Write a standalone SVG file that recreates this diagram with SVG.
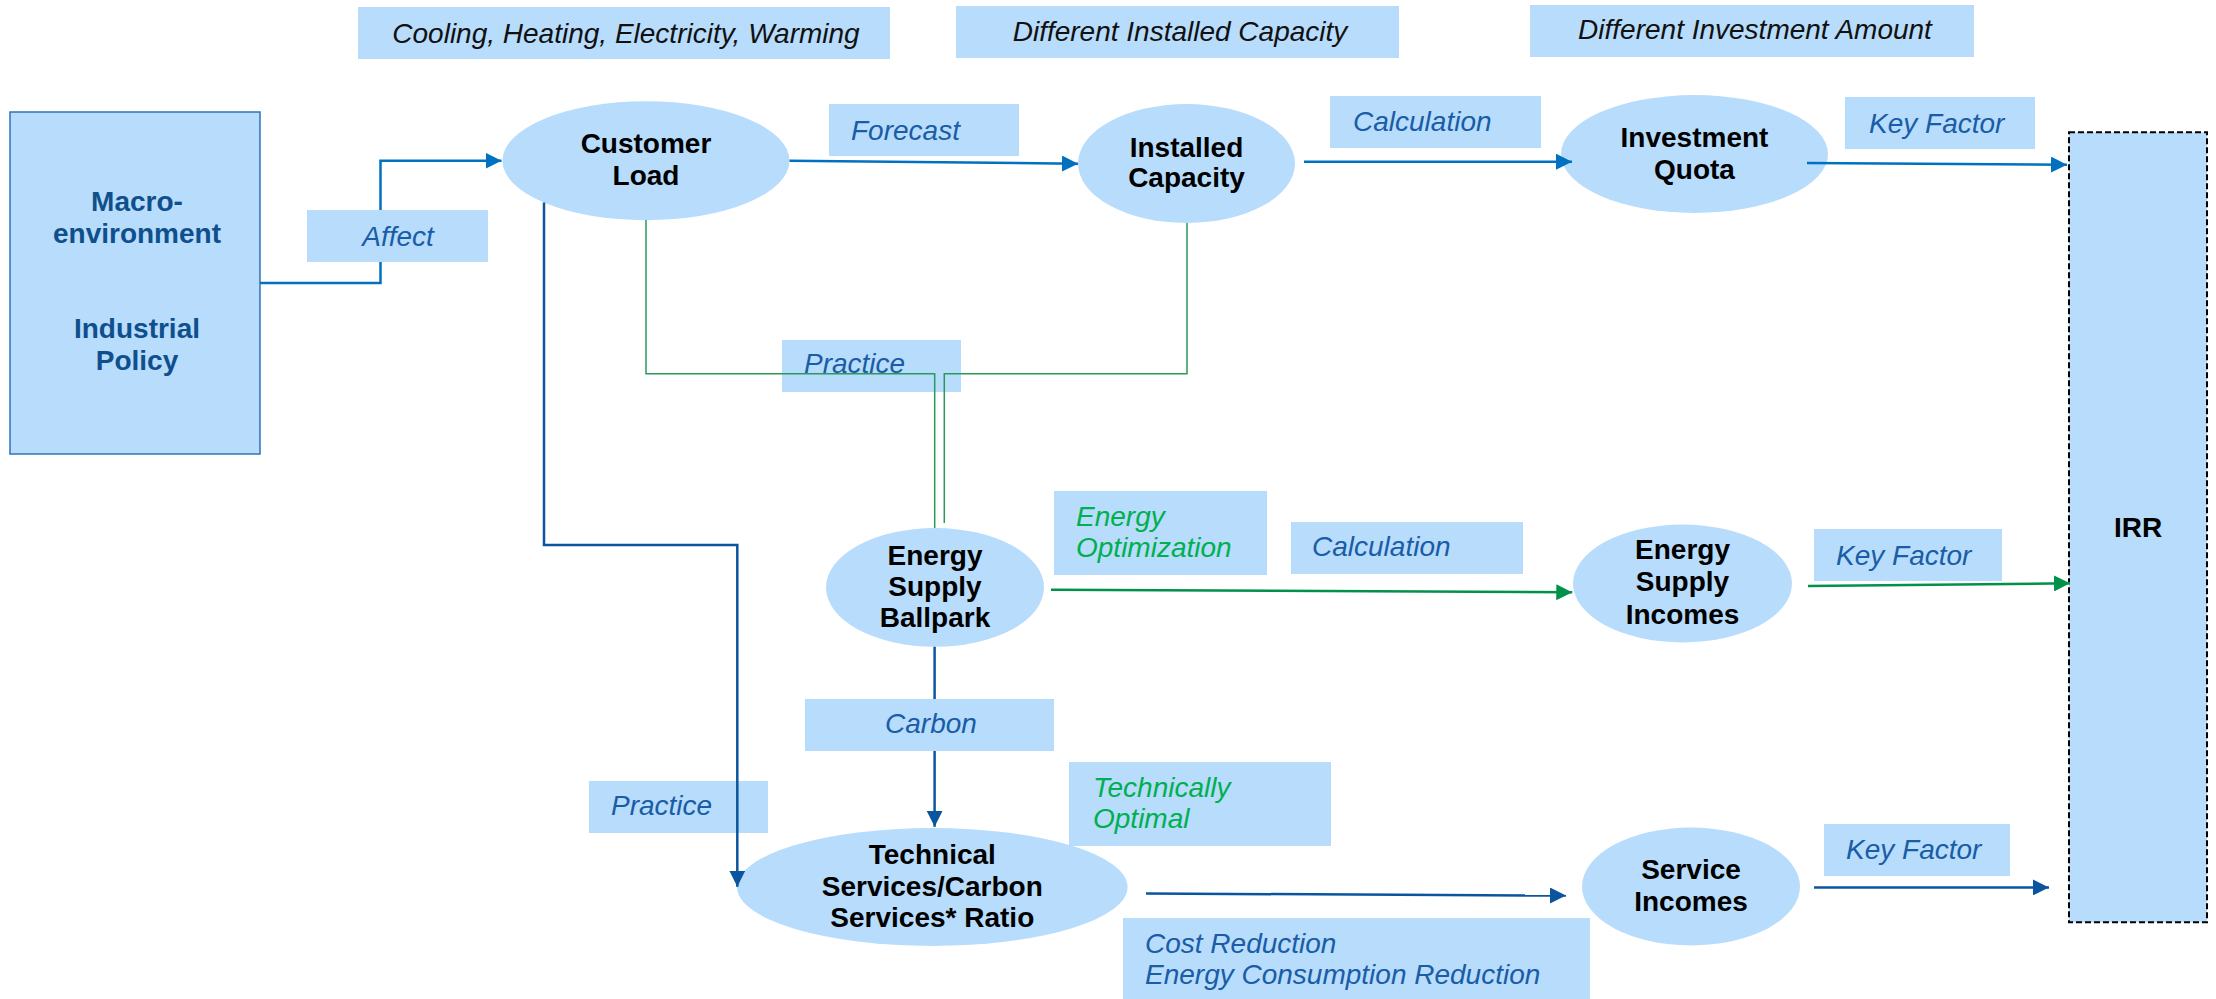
<svg xmlns="http://www.w3.org/2000/svg" width="2216" height="999" viewBox="0 0 2216 999">
<defs>
<style>
.box{fill:#b7dcfc;}
.node{fill:#b7dcfc;}
.nt{font-family:"Liberation Sans",Arial,sans-serif;font-weight:bold;font-size:28px;fill:#000;text-anchor:middle;}
.mt{font-family:"Liberation Sans",Arial,sans-serif;font-weight:bold;font-size:28px;fill:#0f4f8c;text-anchor:middle;}
.lb{font-family:"Liberation Sans",Arial,sans-serif;font-style:italic;font-size:28px;fill:#1a5da6;}
.lk{font-family:"Liberation Sans",Arial,sans-serif;font-style:italic;font-size:28px;fill:#111;}
.lg{font-family:"Liberation Sans",Arial,sans-serif;font-style:italic;font-size:28px;fill:#00b050;}
.c1{fill:none;stroke:#0070c0;stroke-width:2.5;}
.c2{fill:none;stroke:#0b559f;stroke-width:2.5;}
.c3{fill:none;stroke:#00914a;stroke-width:2.5;}
.c4{fill:none;stroke:#2a9a5a;stroke-width:1.5;}
</style>
<marker id="a1" markerUnits="userSpaceOnUse" markerWidth="16" markerHeight="16" refX="16" refY="8" orient="auto"><path d="M0,0 L16,8 L0,16 z" fill="#0070c0"/></marker>
<marker id="a2" markerUnits="userSpaceOnUse" markerWidth="16" markerHeight="16" refX="16" refY="8" orient="auto"><path d="M0,0 L16,8 L0,16 z" fill="#0b559f"/></marker>
<marker id="a3" markerUnits="userSpaceOnUse" markerWidth="16" markerHeight="16" refX="16" refY="8" orient="auto"><path d="M0,0 L16,8 L0,16 z" fill="#00914a"/></marker>
</defs>
<rect width="2216" height="999" fill="#fff"/>

<g id="labels-back">
<g id="lbl-cooling"><rect class="box" x="358" y="7" width="532" height="52"/><text class="lk" x="626" y="43" text-anchor="middle">Cooling, Heating, Electricity, Warming</text></g>
<g id="lbl-diffcap"><rect class="box" x="956" y="6" width="443" height="52"/><text class="lk" x="1180" y="41" text-anchor="middle">Different Installed Capacity</text></g>
<g id="lbl-diffinv"><rect class="box" x="1530" y="5" width="444" height="52"/><text class="lk" x="1755" y="39" text-anchor="middle">Different Investment Amount</text></g>
<g id="lbl-forecast"><rect class="box" x="829" y="104" width="190" height="52"/><text class="lb" x="851" y="140">Forecast</text></g>
<g id="lbl-calc1"><rect class="box" x="1330" y="96" width="211" height="52"/><text class="lb" x="1353" y="131">Calculation</text></g>
<g id="lbl-key1"><rect class="box" x="1845" y="97" width="190" height="52"/><text class="lb" x="1869" y="133">Key Factor</text></g>
<g id="lbl-practice1"><rect class="box" x="782" y="340" width="179" height="52"/><text class="lb" x="804" y="373">Practice</text></g>
<g id="lbl-energyopt"><rect class="box" x="1054" y="491" width="213" height="84"/><text class="lg" x="1076" y="526">Energy</text><text class="lg" x="1076" y="557">Optimization</text></g>
<g id="lbl-calc2"><rect class="box" x="1291" y="522" width="232" height="52"/><text class="lb" x="1312" y="556">Calculation</text></g>
<g id="lbl-key2"><rect class="box" x="1814" y="529" width="188" height="52"/><text class="lb" x="1836" y="565">Key Factor</text></g>
<g id="lbl-practice2"><rect class="box" x="589" y="781" width="179" height="52"/><text class="lb" x="611" y="815">Practice</text></g>
<g id="lbl-techopt"><rect class="box" x="1069" y="762" width="262" height="84"/><text class="lg" x="1093" y="797">Technically</text><text class="lg" x="1093" y="828">Optimal</text></g>
<g id="lbl-key3"><rect class="box" x="1824" y="824" width="186" height="52"/><text class="lb" x="1846" y="859">Key Factor</text></g>
<g id="lbl-cost"><rect class="box" x="1123" y="918" width="467" height="81"/><text class="lb" x="1145" y="953">Cost Reduction</text><text class="lb" x="1145" y="984">Energy Consumption Reduction</text></g>
</g>

<g id="n-macro"><rect x="10" y="112" width="250" height="342" fill="#b7dcfc" stroke="#2e75b6" stroke-width="1.5"/>
<text class="mt" x="137" y="211">Macro-</text><text class="mt" x="137" y="243">environment</text>
<text class="mt" x="137" y="338">Industrial</text><text class="mt" x="137" y="370">Policy</text></g>
<g id="n-customer"><ellipse class="node" cx="646" cy="160.7" rx="143.5" ry="59.5"/><text class="nt" x="646" y="153">Customer</text><text class="nt" x="646" y="185">Load</text></g>
<g id="n-installed"><ellipse class="node" cx="1186.5" cy="163.5" rx="108.5" ry="59.5"/><text class="nt" x="1186.5" y="157">Installed</text><text class="nt" x="1186.5" y="187">Capacity</text></g>
<g id="n-investment"><ellipse class="node" cx="1694.5" cy="154" rx="133.5" ry="59"/><text class="nt" x="1694.5" y="147">Investment</text><text class="nt" x="1694.5" y="179">Quota</text></g>
<g id="n-ballpark"><ellipse class="node" cx="935" cy="587.4" rx="109" ry="59.4"/><text class="nt" x="935" y="565">Energy</text><text class="nt" x="935" y="596">Supply</text><text class="nt" x="935" y="627">Ballpark</text></g>
<g id="n-esincomes"><ellipse class="node" cx="1682.5" cy="583.5" rx="109.5" ry="59"/><text class="nt" x="1682.5" y="559">Energy</text><text class="nt" x="1682.5" y="591">Supply</text><text class="nt" x="1682.5" y="624">Incomes</text></g>
<g id="n-technical"><ellipse class="node" cx="932.3" cy="887" rx="195.3" ry="59"/><text class="nt" x="932.3" y="864">Technical</text><text class="nt" x="932.3" y="896">Services/Carbon</text><text class="nt" x="932.3" y="927">Services* Ratio</text></g>
<g id="n-service"><ellipse class="node" cx="1691" cy="886.5" rx="109" ry="59"/><text class="nt" x="1691" y="879">Service</text><text class="nt" x="1691" y="911">Incomes</text></g>
<g id="n-irr"><rect x="2069" y="132.3" width="138" height="790" fill="#b7dcfc" stroke="#000" stroke-width="2" stroke-dasharray="6,3"/><text class="nt" x="2138" y="537">IRR</text></g>

<g id="connectors">
<path class="c1" d="M260,283 H380.5 V160.7 H501.5" marker-end="url(#a1)"/>
<path class="c1" d="M789.5,160.7 L1078,163.7" marker-end="url(#a1)"/>
<path class="c1" d="M1304,161.7 L1572,161.7" marker-end="url(#a1)"/>
<path class="c1" d="M1807,163 L2067,164.7" marker-end="url(#a1)"/>
<path class="c2" d="M544,202.5 V545 H737.3 V886.7" marker-end="url(#a2)"/>
<path class="c4" d="M646,220 V373.7 H934.7 V528"/>
<path class="c4" d="M1187,223 V373.7 H944.3 V523"/>
<path class="c3" d="M1051,589.7 L1572.3,592.3" marker-end="url(#a3)"/>
<path class="c3" d="M1808,586 L2070,583.3" marker-end="url(#a3)"/>
<path class="c2" d="M934.6,646.8 V826.8" marker-end="url(#a2)"/>
<path class="c2" d="M1146,893.5 L1566,895.6" marker-end="url(#a2)"/>
<path class="c2" d="M1814,887.4 L2049,887.4" marker-end="url(#a2)"/>
</g>

<g id="labels-front">
<g id="lbl-affect"><rect class="box" x="307" y="210" width="181" height="52"/><text class="lb" x="398" y="246" text-anchor="middle">Affect</text></g>
<g id="lbl-carbon"><rect class="box" x="805" y="699" width="249" height="52"/><text class="lb" x="931" y="733" text-anchor="middle">Carbon</text></g>
</g>
</svg>
